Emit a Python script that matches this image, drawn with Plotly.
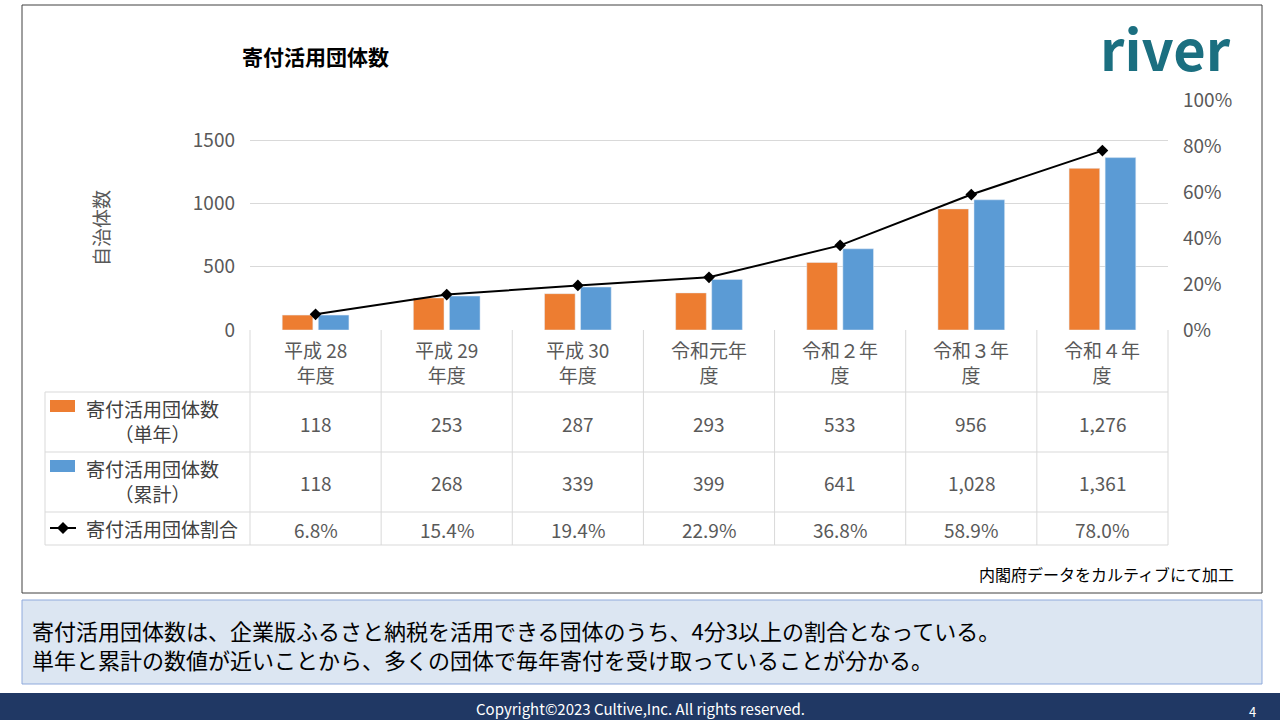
import plotly.graph_objects as go

categories = ["平成 28<br>年度", "平成 29<br>年度", "平成 30<br>年度", "令和元年<br>度",
              "令和２年<br>度", "令和３年<br>度", "令和４年<br>度"]
single_year = [118, 253, 287, 293, 533, 956, 1276]
cumulative = [118, 268, 339, 399, 641, 1028, 1361]
ratio = [6.8, 15.4, 19.4, 22.9, 36.8, 58.9, 78.0]
pct_ticks = [0, 20, 40, 60, 80, 100]

W, H = 1280, 720
ORANGE, BLUE = "#ed7d31", "#5b9bd5"
FONT = "Noto Sans CJK JP"
GRID = "#d9d9d9"

def px(x):
    return x / W

def py(y):
    return 1 - y / H

x0, x1 = 250, 1168
col = (x1 - x0) / 7

fig = go.Figure()
fig.add_trace(go.Bar(x=list(range(7)), y=single_year, marker_color=ORANGE, name="単年"))
fig.add_trace(go.Bar(x=list(range(7)), y=cumulative, marker_color=BLUE, name="累計"))
fig.add_trace(go.Scatter(x=list(range(7)), y=ratio, yaxis="y2", mode="lines+markers",
                         line=dict(color="black", width=2),
                         marker=dict(symbol="diamond", size=9, color="black")))

shapes = []
ann = []

def line(xa, ya, xb, yb, color=GRID, w=1):
    shapes.append(dict(type="line", xref="paper", yref="paper", x0=px(xa), y0=py(ya),
                       x1=px(xb), y1=py(yb), line=dict(color=color, width=w)))

def text(x, y, s, size=18, color="#595959", xanchor="center", **kw):
    ann.append(dict(xref="paper", yref="paper", x=px(x), y=py(y), text=s, showarrow=False,
                    font=dict(size=size, color=color, family=FONT), xanchor=xanchor,
                    yanchor="middle", **kw))

# outer frame
shapes.append(dict(type="rect", xref="paper", yref="paper", x0=px(22), y0=py(593), x1=px(1262),
                   y1=py(5), line=dict(color="#404040", width=1)))
# bottom comment box
shapes.append(dict(type="rect", xref="paper", yref="paper", x0=px(22), y0=py(684), x1=px(1262),
                   y1=py(600), fillcolor="#dce6f2", line=dict(color="#8faadc", width=1)))
# footer bar
shapes.append(dict(type="rect", xref="paper", yref="paper", x0=0, y0=0, x1=1, y1=py(693),
                   fillcolor="#203864", line=dict(width=0)))

# table grid
for i in range(8):
    line(x0 + col * i, 330, x0 + col * i, 545)
line(45, 392, 45, 545)
for y in (392, 452, 512, 545):
    line(45, y, x1, y)

for i, c in enumerate(categories):
    cx = x0 + col * (i + 0.5)
    text(cx, 362, c, size=19)
    text(cx, 423, f"{single_year[i]:,}", size=19)
    text(cx, 483, f"{cumulative[i]:,}", size=19)
    text(cx, 529, f"{ratio[i]:.1f}%", size=19)

# legend keys in table
shapes.append(dict(type="rect", xref="paper", yref="paper", x0=px(50), y0=py(412), x1=px(75),
                   y1=py(400), fillcolor=ORANGE, line=dict(width=0)))
shapes.append(dict(type="rect", xref="paper", yref="paper", x0=px(50), y0=py(472), x1=px(75),
                   y1=py(460), fillcolor=BLUE, line=dict(width=0)))
line(50, 528, 76, 528, color="black", w=2)
shapes.append(dict(type="path", xref="paper", yref="paper",
                   path=f"M {px(63)} {py(522)} L {px(69)} {py(528)} L {px(63)} {py(534)} L {px(57)} {py(528)} Z",
                   fillcolor="black", line=dict(width=0)))
text(152, 421, "寄付活用団体数<br>（単年）", size=19, color="#404040")
text(152, 481, "寄付活用団体数<br>（累計）", size=19, color="#404040")
text(162, 528, "寄付活用団体割合", size=19, color="#404040")

text(240, 56, "<b>寄付活用団体数</b>", size=21, color="black", xanchor="left")
text(100, 228, "自治体数", size=19, textangle=-90)
text(1236, 574, "内閣府データをカルティブにて加工", size=16, color="black", xanchor="right")
text(30, 644, "寄付活用団体数は、企業版ふるさと納税を活用できる団体のうち、4分3以上の割合となっている。<br>"
     "単年と累計の数値が近いことから、多くの団体で毎年寄付を受け取っていることが分かる。",
     size=22, color="black", xanchor="left", align="left")
text(640, 708, "Copyright©2023 Cultive,Inc. All rights reserved.", size=15, color="white")
text(1258, 711, "4", size=13, color="white", xanchor="right")
text(1165, 46, "<b>river</b>", size=56, color="#1b6f80")

fig.update_layout(
    width=W, height=H, margin=dict(l=0, r=0, t=0, b=0, autoexpand=False),
    paper_bgcolor="white", plot_bgcolor="white", showlegend=False,
    barmode="group", bargap=0.45, bargroupgap=0.15,
    shapes=shapes, annotations=ann,
    xaxis=dict(domain=[px(x0), px(x1)], range=[-0.5, 6.5], showticklabels=False,
               showgrid=False, zeroline=False),
    yaxis=dict(domain=[py(330), py(100)], range=[0, 1500 * 230 / 190], tickvals=[0, 500, 1000, 1500],
               showgrid=True, gridcolor=GRID, zeroline=False,
               tickfont=dict(size=19, color="#595959", family=FONT), ticklabelstandoff=14),
    yaxis2=dict(overlaying="y", side="right", range=[0, 100], tickvals=pct_ticks,
                ticktext=[f"{v}%" for v in pct_ticks], showgrid=False, zeroline=False,
                tickfont=dict(size=19, color="#595959", family=FONT), ticklabelstandoff=14),
)

fig.write_html("out.html", config={"displayModeBar": False},
               post_script="document.body.style.margin='0';document.body.style.overflow='hidden';")
